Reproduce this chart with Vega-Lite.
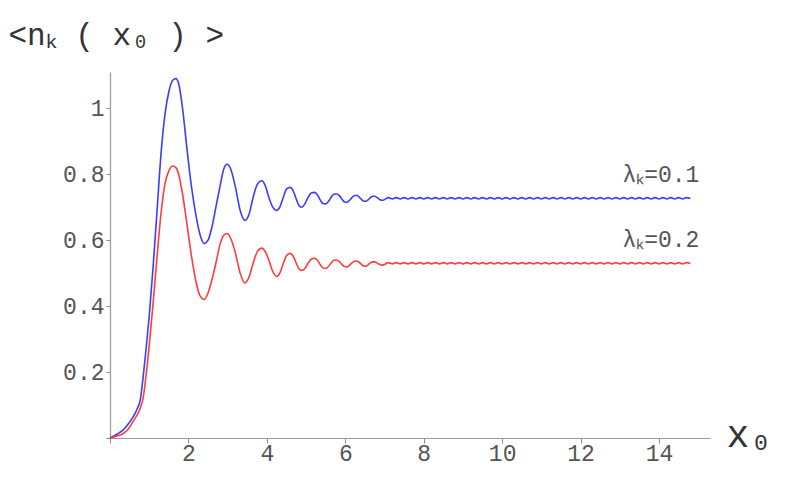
{
  "$schema": "https://vega.github.io/schema/vega-lite/v6.json",
  "autosize": "none",
  "width": 600,
  "height": 366,
  "padding": {"left": 110, "top": 72, "right": 75, "bottom": 46},
  "background": "white",
  "config": {"view": {"stroke": null}},
  "datasets": {
    "curves": [
      {"x":0,"blue":0,"red":0},{"x":0.1,"blue":0.006,"red":0.003},{"x":0.2,"blue":0.013,"red":0.007},{"x":0.33,"blue":0.024,"red":0.013},{"x":0.45,"blue":0.04,"red":0.025},{"x":0.59,"blue":0.064,"red":0.05},{"x":0.7,"blue":0.09,"red":0.072},{"x":0.77,"blue":0.115,"red":0.09},{"x":0.85,"blue":0.19,"red":0.125},{"x":0.92,"blue":0.27,"red":0.19},{"x":1.0,"blue":0.37,"red":0.28},{"x":1.1,"blue":0.52,"red":0.41},{"x":1.2,"blue":0.69,"red":0.55},{"x":1.3,"blue":0.86,"red":0.68},{"x":1.4,"blue":0.98,"red":0.77},{"x":1.5,"blue":1.05,"red":0.81},{"x":1.6,"blue":1.085,"red":0.825},{"x":1.68,"blue":1.09,"red":0.82},{"x":1.75,"blue":1.075,"red":0.8},{"x":1.85,"blue":1.0,"red":0.74},{"x":1.96,"blue":0.88,"red":0.65},{"x":2.08,"blue":0.76,"red":0.55},{"x":2.2,"blue":0.67,"red":0.47},{"x":2.3,"blue":0.615,"red":0.43},{"x":2.4,"blue":0.59,"red":0.42},{"x":2.5,"blue":0.6,"red":0.44},{"x":2.6,"blue":0.64,"red":0.48},{"x":2.7,"blue":0.7,"red":0.53},{"x":2.8,"blue":0.76,"red":0.585},{"x":2.9,"blue":0.815,"red":0.615},{"x":2.98,"blue":0.83,"red":0.62},{"x":3.08,"blue":0.815,"red":0.605},{"x":3.2,"blue":0.76,"red":0.56},{"x":3.32,"blue":0.69,"red":0.5},{"x":3.44,"blue":0.66,"red":0.47},{"x":3.55,"blue":0.68,"red":0.49},{"x":3.65,"blue":0.73,"red":0.53},{"x":3.76,"blue":0.77,"red":0.566},{"x":3.87,"blue":0.78,"red":0.576},{"x":3.96,"blue":0.765,"red":0.565},{"x":4.05,"blue":0.73,"red":0.54},{"x":4.15,"blue":0.7,"red":0.505},{"x":4.25,"blue":0.69,"red":0.49},{"x":4.33,"blue":0.7,"red":0.5},{"x":4.42,"blue":0.73,"red":0.53},{"x":4.5,"blue":0.755,"red":0.553},{"x":4.59,"blue":0.76,"red":0.56},{"x":4.67,"blue":0.75,"red":0.552},{"x":4.75,"blue":0.725,"red":0.53},{"x":4.82,"blue":0.705,"red":0.513},{"x":4.89,"blue":0.7,"red":0.508},{"x":4.97,"blue":0.71,"red":0.514},{"x":5.05,"blue":0.73,"red":0.53},{"x":5.13,"blue":0.743,"red":0.542},{"x":5.22,"blue":0.745,"red":0.545},{"x":5.29,"blue":0.737,"red":0.539},{"x":5.36,"blue":0.722,"red":0.526},{"x":5.43,"blue":0.711,"red":0.516},{"x":5.5,"blue":0.71,"red":0.514},{"x":5.57,"blue":0.717,"red":0.52},{"x":5.64,"blue":0.73,"red":0.531},{"x":5.71,"blue":0.739,"red":0.539},{"x":5.78,"blue":0.74,"red":0.54},{"x":5.85,"blue":0.735,"red":0.535},{"x":5.91,"blue":0.725,"red":0.527},{"x":5.98,"blue":0.716,"red":0.52},{"x":6.04,"blue":0.715,"red":0.519},{"x":6.1,"blue":0.72,"red":0.523},{"x":6.17,"blue":0.729,"red":0.531},{"x":6.23,"blue":0.735,"red":0.536},{"x":6.29,"blue":0.736,"red":0.537},{"x":6.35,"blue":0.731,"red":0.533},{"x":6.4,"blue":0.725,"red":0.528},{"x":6.46,"blue":0.719,"red":0.522},{"x":6.52,"blue":0.718,"red":0.521},{"x":6.58,"blue":0.722,"red":0.525},{"x":6.64,"blue":0.729,"red":0.531},{"x":6.7,"blue":0.733,"red":0.534},{"x":6.75,"blue":0.733,"red":0.534},{"x":6.81,"blue":0.729,"red":0.531},{"x":6.87,"blue":0.724,"red":0.527},{"x":6.93,"blue":0.721,"red":0.524},{"x":6.98,"blue":0.722,"red":0.525},
      {"x":7.1,"blue":0.729,"red":0.532},{"x":7.2,"blue":0.725,"red":0.528},{"x":7.3,"blue":0.729,"red":0.532},{"x":7.4,"blue":0.725,"red":0.528},{"x":7.5,"blue":0.729,"red":0.532},{"x":7.6,"blue":0.725,"red":0.528},{"x":7.7,"blue":0.729,"red":0.532},{"x":7.8,"blue":0.725,"red":0.528},{"x":7.9,"blue":0.729,"red":0.532},{"x":8.0,"blue":0.725,"red":0.528},
      {"x":8.1,"blue":0.729,"red":0.532},{"x":8.2,"blue":0.725,"red":0.528},{"x":8.3,"blue":0.729,"red":0.532},{"x":8.4,"blue":0.725,"red":0.528},{"x":8.5,"blue":0.729,"red":0.532},{"x":8.6,"blue":0.725,"red":0.528},{"x":8.7,"blue":0.729,"red":0.532},{"x":8.8,"blue":0.725,"red":0.528},{"x":8.9,"blue":0.729,"red":0.532},{"x":9.0,"blue":0.725,"red":0.528},
      {"x":9.1,"blue":0.729,"red":0.532},{"x":9.2,"blue":0.725,"red":0.528},{"x":9.3,"blue":0.729,"red":0.532},{"x":9.4,"blue":0.725,"red":0.528},{"x":9.5,"blue":0.729,"red":0.532},{"x":9.6,"blue":0.725,"red":0.528},{"x":9.7,"blue":0.729,"red":0.532},{"x":9.8,"blue":0.725,"red":0.528},{"x":9.9,"blue":0.729,"red":0.532},{"x":10.0,"blue":0.725,"red":0.528},
      {"x":10.1,"blue":0.729,"red":0.532},{"x":10.2,"blue":0.725,"red":0.528},{"x":10.3,"blue":0.729,"red":0.532},{"x":10.4,"blue":0.725,"red":0.528},{"x":10.5,"blue":0.729,"red":0.532},{"x":10.6,"blue":0.725,"red":0.528},{"x":10.7,"blue":0.729,"red":0.532},{"x":10.8,"blue":0.725,"red":0.528},{"x":10.9,"blue":0.729,"red":0.532},{"x":11.0,"blue":0.725,"red":0.528},
      {"x":11.1,"blue":0.729,"red":0.532},{"x":11.2,"blue":0.725,"red":0.528},{"x":11.3,"blue":0.729,"red":0.532},{"x":11.4,"blue":0.725,"red":0.528},{"x":11.5,"blue":0.729,"red":0.532},{"x":11.6,"blue":0.725,"red":0.528},{"x":11.7,"blue":0.729,"red":0.532},{"x":11.8,"blue":0.725,"red":0.528},{"x":11.9,"blue":0.729,"red":0.532},{"x":12.0,"blue":0.725,"red":0.528},
      {"x":12.1,"blue":0.729,"red":0.532},{"x":12.2,"blue":0.725,"red":0.528},{"x":12.3,"blue":0.729,"red":0.532},{"x":12.4,"blue":0.725,"red":0.528},{"x":12.5,"blue":0.729,"red":0.532},{"x":12.6,"blue":0.725,"red":0.528},{"x":12.7,"blue":0.729,"red":0.532},{"x":12.8,"blue":0.725,"red":0.528},{"x":12.9,"blue":0.729,"red":0.532},{"x":13.0,"blue":0.725,"red":0.528},
      {"x":13.1,"blue":0.729,"red":0.532},{"x":13.2,"blue":0.725,"red":0.528},{"x":13.3,"blue":0.729,"red":0.532},{"x":13.4,"blue":0.725,"red":0.528},{"x":13.5,"blue":0.729,"red":0.532},{"x":13.6,"blue":0.725,"red":0.528},{"x":13.7,"blue":0.729,"red":0.532},{"x":13.8,"blue":0.725,"red":0.528},{"x":13.9,"blue":0.729,"red":0.532},{"x":14.0,"blue":0.725,"red":0.528},
      {"x":14.1,"blue":0.729,"red":0.532},{"x":14.2,"blue":0.725,"red":0.528},{"x":14.3,"blue":0.729,"red":0.532},{"x":14.4,"blue":0.725,"red":0.528},{"x":14.5,"blue":0.729,"red":0.532},{"x":14.6,"blue":0.725,"red":0.528},{"x":14.7,"blue":0.729,"red":0.532},{"x":14.8,"blue":0.726,"red":0.529}
    ],
    "labels": [
      {"x": 15.03, "y": 0.797, "label": "λₖ=0.1"},
      {"x": 15.03, "y": 0.6, "label": "λₖ=0.2"}
    ]
  },
  "layer": [
    {
      "data": {"name": "curves"},
      "transform": [{"fold": ["blue", "red"], "as": ["series", "value"]}],
      "mark": {"type": "line", "strokeWidth": 1.6, "interpolate": "monotone", "clip": false},
      "encoding": {
        "x": {
          "field": "x", "type": "quantitative",
          "scale": {"domain": [0, 15.3], "nice": false, "zero": false},
          "axis": {
            "title": "x₀",
            "titleFont": "Liberation Mono", "titleFontSize": 38, "titleFontWeight": "normal", "titleColor": "#333",
            "titleAlign": "left", "titleBaseline": "alphabetic", "titleX": 616, "titleY": 8, "titleAngle": 0,
            "values": [0,0.5,1,1.5,2,2.5,3,3.5,4,4.5,5,5.5,6,6.5,7,7.5,8,8.5,9,9.5,10,10.5,11,11.5,12,12.5,13,13.5,14,14.5,15],
            "labelExpr": "(datum.value % 2 == 0 && datum.value > 0) ? format(datum.value, 'd') : ''",
            "grid": false, "domainColor": "#999", "domainWidth": 1.2, "tickColor": "#888", "tickWidth": 1, "tickSize": 5,
            "labelFont": "Liberation Mono", "labelFontSize": 23, "labelColor": "#555", "labelPadding": -1,
            "labelOverlap": false, "labelFlush": false
          }
        },
        "y": {
          "field": "value", "type": "quantitative",
          "scale": {"domain": [0, 1.11], "nice": false, "zero": false},
          "axis": {
            "title": "<nₖ ( x₀ ) >",
            "titleFont": "Liberation Mono", "titleFontSize": 31, "titleFontWeight": "normal", "titleColor": "#333",
            "titleAlign": "left", "titleBaseline": "alphabetic", "titleAngle": 0, "titleX": -102, "titleY": -28,
            "values": [0,0.05,0.1,0.15,0.2,0.25,0.3,0.35,0.4,0.45,0.5,0.55,0.6,0.65,0.7,0.75,0.8,0.85,0.9,0.95,1,1.05,1.1],
            "labelExpr": "(round(datum.value*100) % 20 == 0 && datum.value > 0) ? format(datum.value, '~g') : ''",
            "grid": false, "domainColor": "#999", "domainWidth": 1.2, "tickColor": "#888", "tickWidth": 1, "tickSize": 4,
            "labelFont": "Liberation Mono", "labelFontSize": 23, "labelColor": "#555", "labelPadding": 2,
            "labelOverlap": false, "labelFlush": false
          }
        },
        "color": {
          "field": "series", "type": "nominal",
          "scale": {"domain": ["blue", "red"], "range": ["#3c3cff", "#ff3c3c"]},
          "legend": null
        }
      }
    },
    {
      "data": {"name": "labels"},
      "mark": {"type": "text", "align": "right", "baseline": "middle", "font": "Liberation Mono", "fontSize": 23, "color": "#555"},
      "encoding": {
        "x": {"field": "x", "type": "quantitative"},
        "y": {"field": "y", "type": "quantitative"},
        "text": {"field": "label"}
      }
    }
  ]
}
